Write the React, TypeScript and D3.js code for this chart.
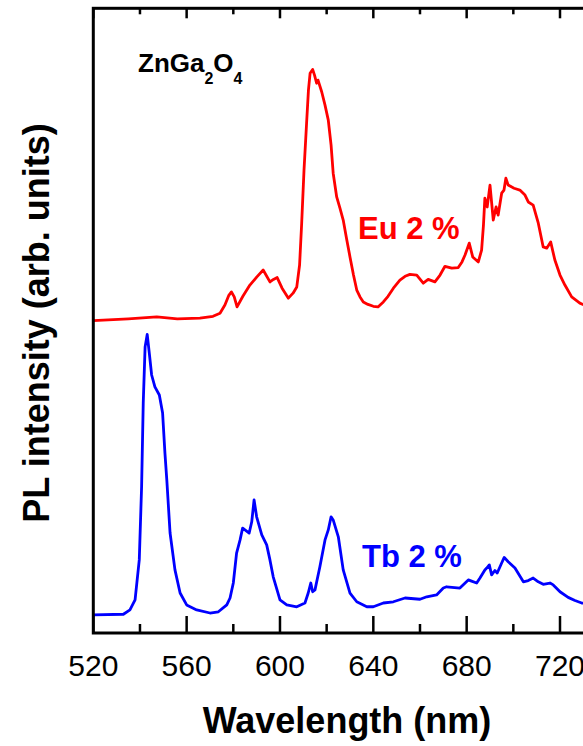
import React, { useRef, useEffect } from 'react';
import * as d3 from 'd3';

// PL spectra, [wavelength (nm), intensity (arb. units, offset)]
const euSpectrum: [number, number][] = [
  [520, 50.0], [535, 50.3], [547.2, 50.6], [556, 50.3], [565.7, 50.4], [571.3, 50.7],
  [574.3, 51.2], [576.4, 52.5], [578, 54.0], [579.2, 54.6], [580.4, 53.8], [581.6, 52.2],
  [584.1, 53.9], [587.1, 55.7], [590.1, 57.0], [592.8, 58.1], [595.7, 56.2], [597.2, 56.6],
  [598.8, 56.9], [600.9, 55.2], [603.6, 53.6], [605.6, 54.4], [607.2, 55.4], [608.4, 58.9],
  [609.3, 65.6], [610.3, 74.1], [611.4, 81.6], [612.2, 86.9], [612.9, 89.6], [614.0, 90.2],
  [614.8, 89.3], [615.7, 88.0], [616.3, 88.5], [617.9, 86.6], [619.3, 84.5], [620.7, 82.1],
  [621.9, 78.1], [622.8, 73.6], [624.3, 69.8], [625.7, 68.0], [627.1, 66.1], [628.5, 63.2],
  [630.0, 60.2], [631.5, 57.3], [632.9, 54.9], [634.3, 53.8], [635.7, 53.0], [637.7, 52.6],
  [640.0, 52.3], [642.0, 52.2], [644.3, 53.0], [646.3, 53.9], [648.6, 55.2], [651.4, 56.5],
  [653.6, 57.1], [655.7, 57.4], [658.6, 57.3], [661.4, 56.0], [663.5, 56.6], [666.4, 56.2],
  [668.6, 57.3], [670.7, 58.7], [673.6, 58.4], [676.4, 58.5], [678.0, 59.4], [679.3, 60.5],
  [681.1, 62.4], [682.6, 60.2], [685.0, 59.4], [686.4, 61.3], [687.2, 65.3], [687.8, 69.6],
  [688.8, 68.2], [690.0, 71.7], [691.4, 66.1], [692.6, 68.2], [693.5, 66.9], [695.0, 70.4],
  [696.0, 70.9], [696.8, 72.8], [697.8, 71.7], [700.3, 71.2], [702.8, 70.9], [705.0, 70.1],
  [706.4, 69.0], [708.5, 68.5], [710.7, 65.6], [712.8, 61.8], [714.3, 61.6], [716.0, 62.6],
  [717.8, 59.7], [720.0, 57.3], [722.1, 55.7], [725.0, 53.8], [728.5, 52.8], [731, 52.4],
  [735, 52.0]
];

const tbSpectrum: [number, number][] = [
  [520, 2.9], [532.9, 3.0], [535.7, 3.7], [537.9, 5.3], [539.7, 11.7], [540.7, 23.4],
  [541.4, 36.8], [542.2, 45.8], [543.1, 47.8], [544.0, 44.8], [545.0, 41.3], [546.4, 39.4],
  [548.3, 38.1], [549.7, 35.2], [550.7, 28.8], [551.5, 24.5], [552.9, 16.0], [555.0, 10.1],
  [557.2, 6.4], [560.0, 4.5], [564.3, 3.7], [570.0, 3.2], [573.6, 3.4], [577.2, 4.5],
  [578.6, 5.6], [580.0, 8.0], [581.4, 12.8], [582.9, 14.9], [584.0, 16.8], [585.0, 16.5],
  [586.8, 16.0], [587.9, 17.8], [588.9, 21.3], [590.0, 18.6], [592.2, 15.7], [594.3, 14.1],
  [595.7, 11.7], [597.1, 9.0], [600.0, 5.3], [602.9, 4.5], [607.2, 4.2], [610.7, 4.8],
  [612.1, 6.4], [613.2, 8.0], [614.0, 6.6], [615.0, 6.9], [617.1, 10.6], [619.3, 14.9],
  [620.7, 16.5], [621.9, 18.6], [622.8, 18.1], [625.0, 15.4], [627.1, 10.1], [630.0, 6.4],
  [632.9, 5.0], [637.2, 4.2], [640.0, 4.2], [644.3, 4.8], [648.6, 5.0], [653.6, 5.6],
  [660.0, 5.4], [662.9, 5.8], [667.1, 6.1], [670.0, 7.2], [671.4, 7.4], [677.1, 7.2],
  [680.7, 8.5], [682.1, 8.3], [684.3, 8.0], [685.7, 8.8], [687.8, 10.1], [688.6, 10.4],
  [689.7, 10.9], [690.7, 9.3], [692.1, 10.0], [693.1, 9.6], [695.0, 11.2], [696.1, 12.1],
  [697.8, 11.4], [700.7, 10.4], [704.3, 8.2], [706.4, 8.4], [708.5, 8.8], [710.7, 8.2],
  [712.8, 7.8], [715.7, 8.0], [717.1, 7.7], [720.0, 6.6], [723.5, 5.7], [726.4, 5.2],
  [729.3, 4.8], [735, 4.5]
];

const majorTicks = [520, 560, 600, 640, 680, 720, 760];
const minorTicks = [540, 580, 620, 660, 700, 740];
const tickLabels = ['520', '560', '600', '640', '680', '720'];

const FONT = '"Liberation Sans", Arial, sans-serif';

const App = () => {
  const ref = useRef<SVGSVGElement>(null);

  useEffect(() => {
    const W = 583, H = 746;
    const left = 93.3, top = 8.3, bottom = 633;
    const svg = d3.select(ref.current).attr('width', W).attr('height', H);
    svg.selectAll('*').remove();

    const x = d3.scaleLinear().domain([520, 760]).range([left, left + 240 * 2.3335]);
    const y = d3.scaleLinear().domain([0, 100]).range([bottom, top]);
    const right = x(760);

    const line = d3.line<[number, number]>()
      .x(d => x(d[0]))
      .y(d => y(d[1]));

    svg.append('path').datum(euSpectrum)
      .attr('d', line).attr('fill', 'none')
      .attr('stroke', '#ff0000').attr('stroke-width', 2.8).attr('stroke-linejoin', 'round');

    svg.append('path').datum(tbSpectrum)
      .attr('d', line).attr('fill', 'none')
      .attr('stroke', '#0000ff').attr('stroke-width', 2.8).attr('stroke-linejoin', 'round');

    // frame
    svg.append('rect')
      .attr('x', left).attr('y', top)
      .attr('width', right - left).attr('height', bottom - top)
      .attr('fill', 'none').attr('stroke', '#000').attr('stroke-width', 3);

    // ticks (inward)
    const g = svg.append('g').attr('stroke', '#000').attr('stroke-width', 2.5);
    majorTicks.forEach(t => {
      g.append('line').attr('x1', x(t)).attr('x2', x(t)).attr('y1', bottom).attr('y2', bottom - 17);
      g.append('line').attr('x1', x(t)).attr('x2', x(t)).attr('y1', top).attr('y2', top + 10);
    });
    minorTicks.forEach(t => {
      g.append('line').attr('x1', x(t)).attr('x2', x(t)).attr('y1', bottom).attr('y2', bottom - 9);
      g.append('line').attr('x1', x(t)).attr('x2', x(t)).attr('y1', top).attr('y2', top + 6);
    });

    svg.append('g').selectAll('text').data(tickLabels).enter().append('text')
      .attr('x', (d, i) => x(majorTicks[i])).attr('y', 676)
      .attr('text-anchor', 'middle')
      .attr('font-family', FONT).attr('font-size', 30)
      .text(d => d);

    svg.append('text')
      .attr('x', 347).attr('y', 733)
      .attr('text-anchor', 'middle')
      .attr('font-family', FONT).attr('font-size', 36).attr('font-weight', 'bold')
      .text('Wavelength (nm)');

    svg.append('text')
      .attr('transform', 'translate(49,323) rotate(-90)')
      .attr('text-anchor', 'middle')
      .attr('font-family', FONT).attr('font-size', 36).attr('font-weight', 'bold')
      .text('PL intensity (arb. units)');

    const title = svg.append('text')
      .attr('x', 138).attr('y', 72)
      .attr('font-family', FONT).attr('font-size', 26).attr('font-weight', 'bold');
    title.append('tspan').text('ZnGa');
    title.append('tspan').attr('font-size', 16).attr('dy', 12).text('2');
    title.append('tspan').attr('dy', -12).text('O');
    title.append('tspan').attr('font-size', 16).attr('dy', 12).text('4');

    svg.append('text')
      .attr('x', 358).attr('y', 239)
      .attr('font-family', FONT).attr('font-size', 31).attr('font-weight', 'bold')
      .attr('fill', '#ff0000')
      .text('Eu 2 %');

    svg.append('text')
      .attr('x', 362).attr('y', 567)
      .attr('font-family', FONT).attr('font-size', 31).attr('font-weight', 'bold')
      .attr('fill', '#0000ff')
      .text('Tb 2 %');
  }, []);

  return (
    <div style={{ position: 'absolute', left: 0, top: 0 }}>
      <svg ref={ref} style={{ display: 'block' }}></svg>
    </div>
  );
};

export default App;
